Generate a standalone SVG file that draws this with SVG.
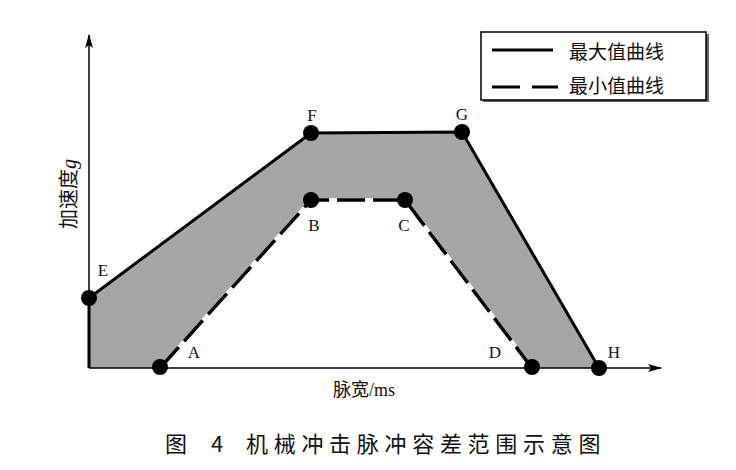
<svg xmlns="http://www.w3.org/2000/svg" width="736" height="470" viewBox="0 0 736 470">
<style>
.lbl{font-family:"Liberation Serif",serif;font-size:17px;fill:#111}
.cjk{font-family:"Noto Sans CJK SC",sans-serif;fill:#111}
.pt{fill:#000}
</style>
<defs>
<marker id="arr" markerWidth="14" markerHeight="8" refX="13" refY="4" orient="auto" markerUnits="userSpaceOnUse">
<path d="M0,0 L14,4 L0,8 L3,4 Z" fill="#000"/>
</marker>
</defs>
<rect width="736" height="470" fill="#fff"/>
<g id="band">
<polygon points="89,368 89,298 311,133 462,132 599,368 532,368 405,200 311,200 160,368" fill="#a6a6a6"/>
</g>
<g id="connectors">
<line x1="89" y1="368" x2="89" y2="35" stroke="#000" stroke-width="1.5" marker-end="url(#arr)"/>
<line x1="89" y1="368" x2="661" y2="368" stroke="#000" stroke-width="1.5" marker-end="url(#arr)"/>
<polyline points="89,368 89,298 311,133 462,132 599,368" fill="none" stroke="#000" stroke-width="3"/>
<polyline points="160,368 311,200 405,200 532,368" fill="none" stroke="#fff" stroke-width="3.5"/>
<polyline points="160,368 311,200 405,200 532,368" fill="none" stroke="#000" stroke-width="3.5" stroke-dasharray="28,8"/>
</g>
<g id="nodes">
<g id="E"><circle class="pt" cx="89" cy="298" r="8"/><text class="lbl" x="103" y="276" text-anchor="middle">E</text></g>
<g id="F"><circle class="pt" cx="311" cy="133" r="8"/><text class="lbl" x="312" y="121" text-anchor="middle">F</text></g>
<g id="G"><circle class="pt" cx="462" cy="132" r="8"/><text class="lbl" x="462" y="120" text-anchor="middle">G</text></g>
<g id="H"><circle class="pt" cx="599" cy="368" r="8"/><text class="lbl" x="614" y="358" text-anchor="middle">H</text></g>
<g id="A"><circle class="pt" cx="160" cy="367" r="8"/><text class="lbl" x="194" y="358" text-anchor="middle">A</text></g>
<g id="B"><circle class="pt" cx="311" cy="200" r="8"/><text class="lbl" x="314" y="231" text-anchor="middle">B</text></g>
<g id="C"><circle class="pt" cx="405" cy="200" r="8"/><text class="lbl" x="404" y="231" text-anchor="middle">C</text></g>
<g id="D"><circle class="pt" cx="532" cy="367" r="8"/><text class="lbl" x="495" y="358" text-anchor="middle">D</text></g>
</g>
<g id="legend">
<rect x="483" y="34" width="226" height="68" fill="#666"/>
<rect x="481" y="32" width="225" height="68" fill="#fff" stroke="#000" stroke-width="1.5"/>
<line x1="492" y1="50" x2="553" y2="50" stroke="#000" stroke-width="3"/>
<line x1="492" y1="87" x2="558" y2="87" stroke="#000" stroke-width="3" stroke-dasharray="28,12"/>
<text class="cjk" x="569" y="59" font-size="19">最大值曲线</text>
<text class="cjk" x="569" y="93" font-size="19">最小值曲线</text>
</g>
<g id="axis-labels">
<text class="cjk" font-size="20" transform="translate(76,194) rotate(-90)" text-anchor="middle">加速度<tspan font-family="Liberation Serif,serif" font-style="italic">g</tspan></text>
<text class="cjk" x="333" y="396" font-size="18">脉宽<tspan font-family="Liberation Serif,serif">/ms</tspan></text>
<text class="cjk" x="165" y="452" font-size="22">图</text>
<text class="cjk" x="211" y="452" font-size="22">4</text>
<text class="cjk" x="246" y="452" font-size="22" letter-spacing="5.7">机械冲击脉冲容差范围示意图</text>
</g>
</svg>
